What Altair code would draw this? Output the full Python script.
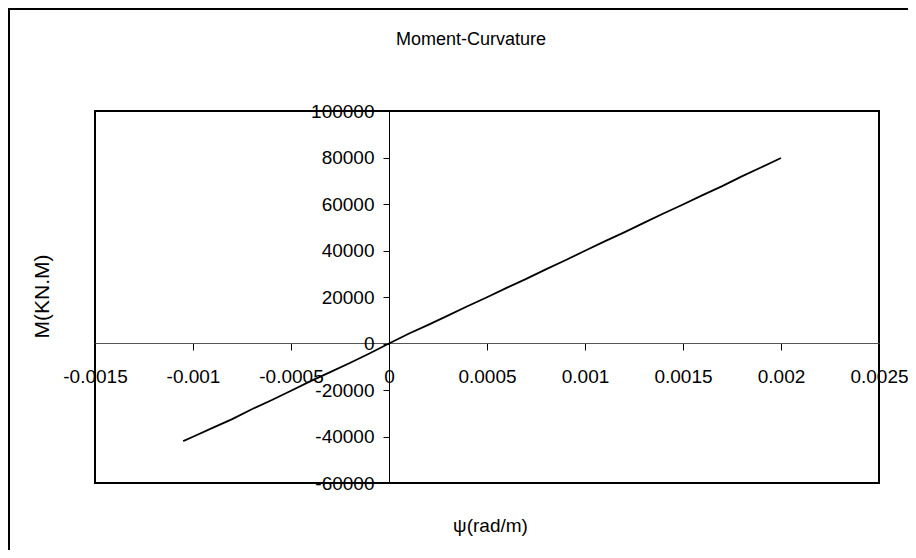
import altair as alt
import pandas as pd

# curvature psi (rad/m) and moment M (kN.m)
curvature = [-0.00105, -0.001, -0.0009, -0.0008, -0.0007, -0.0006, -0.0005, -0.0004,
             -0.0003, -0.0002, -0.0001, 0.0, 0.0001, 0.0002, 0.0003, 0.0004, 0.0005,
             0.0006, 0.0007, 0.0008, 0.0009, 0.001, 0.0011, 0.0012, 0.0013, 0.0014,
             0.0015, 0.0016, 0.0017, 0.0018, 0.0019, 0.002]
moment = [-42000, -40100, -36300, -32500, -28300, -24400, -20300, -16200,
          -12300, -8400, -4300, 0, 4200, 8000, 12000, 16000, 19900,
          23900, 27800, 31900, 35800, 39900, 43900, 47800, 51900, 55900,
          59800, 63800, 67700, 71900, 75800, 79800]

x_ticks = [-0.0015, -0.001, -0.0005, 0, 0.0005, 0.001, 0.0015, 0.002, 0.0025]
y_ticks = [-60000, -40000, -20000, 0, 20000, 40000, 60000, 80000, 100000]

chart_title = ["Moment-Curvature"]

df = pd.DataFrame({"psi": curvature, "M": moment})
tdf = pd.DataFrame({"t": chart_title})

FONT = "Liberation Sans, Arial"
FS = 19

W, H = 784, 372

line = alt.Chart(df).mark_line(color="#000", strokeWidth=1.8).encode(
    x=alt.X("psi:Q",
            scale=alt.Scale(domain=[-0.0015, 0.0025], nice=False, zero=False),
            axis=alt.Axis(values=x_ticks, labelExpr="'' + datum.value",
                          offset=-140, grid=False, tickSize=7, tickColor="#000",
                          domainColor="#555", domainWidth=1,
                          labelPadding=17, labelFont=FONT, labelFontSize=FS,
                          labelColor="#000", labelFlush=False, labelOverlap=False,
                          title="ψ(rad/m)", titleFont=FONT, titleFontSize=FS,
                          titleFontWeight="normal", titleColor="#000",
                          titleX=395, titleY=182, titleAnchor="middle",
                          titleBaseline="middle")),
    y=alt.Y("M:Q",
            scale=alt.Scale(domain=[-60000, 100000], nice=False, zero=False),
            axis=alt.Axis(values=y_ticks, labelExpr="'' + datum.value",
                          offset=-294, grid=False, tickSize=6, tickColor="#000",
                          domainColor="#000", domainWidth=1,
                          labelPadding=9, labelFont=FONT, labelFontSize=FS,
                          labelColor="#000", labelFlush=False, labelOverlap=False,
                          title="M(KN.M)", titleFont=FONT, titleFontSize=21,
                          titleFontWeight="normal", titleColor="#000",
                          titleX=-347, titleY=185, titleAngle=-90,
                          titleAnchor="middle", titleBaseline="middle")),
)

frame = alt.Chart(tdf).mark_rect(fill=None, stroke="#000", strokeWidth=2).encode(
    x=alt.value(-86), x2=alt.value(2000), y=alt.value(-102), y2=alt.value(2000)
)

title = alt.Chart(tdf).mark_text(font=FONT, fontSize=18, color="#000",
                                 align="center", baseline="middle").encode(
    x=alt.value(376), y=alt.value(-71), text="t:N"
)

chart = alt.layer(frame, title, line).properties(
    width=W, height=H,
    padding={"left": 87, "top": 103, "right": 29, "bottom": 67},
    autosize="none",
).configure(background="white",
            view=alt.ViewConfig(stroke="#000", strokeWidth=2))

chart.save("out.html", embed_options={"renderer": "svg", "actions": False})
